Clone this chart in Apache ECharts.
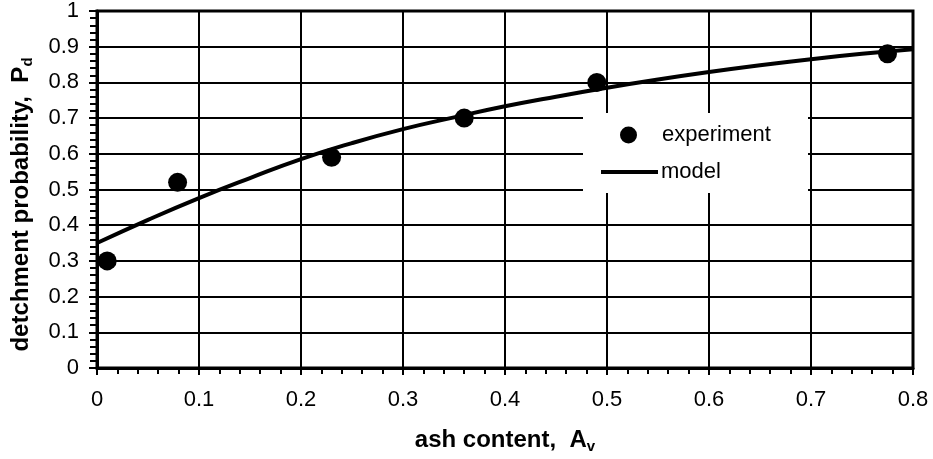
<!DOCTYPE html>
<html>
<head>
<meta charset="utf-8">
<script src="https://cdn.jsdelivr.net/npm/echarts@6/dist/echarts.min.js"></script>
<style>html,body{margin:0;padding:0;background:#fff}#c{width:933px;height:459px}</style>
</head>
<body>
<div id="c"></div>
<script>
const expX = [0.01, 0.079, 0.23, 0.36, 0.49, 0.775];
const expY = [0.30, 0.52, 0.59, 0.70, 0.80, 0.88];
const modelX = [0, 0.05, 0.1, 0.15, 0.2, 0.25, 0.3, 0.35, 0.4, 0.45, 0.5, 0.55, 0.6, 0.65, 0.7, 0.75, 0.8];
const modelY = [0.35, 0.415, 0.476, 0.532, 0.585, 0.63, 0.669, 0.702, 0.733, 0.76, 0.785, 0.808, 0.829, 0.848, 0.865, 0.88, 0.893];
const xTicks = [0, 0.1, 0.2, 0.3, 0.4, 0.5, 0.6, 0.7, 0.8];
const yTicks = [0, 0.1, 0.2, 0.3, 0.4, 0.5, 0.6, 0.7, 0.8, 0.9, 1];

const FONT = '"Liberation Sans", Arial, sans-serif';
const chart = echarts.init(document.getElementById('c'), null, {renderer: 'canvas'});
const fmt = v => (Math.abs(v) < 1e-9 ? '0' : String(+v.toFixed(1)));
chart.setOption({
  animation: false,
  backgroundColor: '#fff',
  textStyle: {fontFamily: FONT},
  grid: {left: 97, right: 20, top: 9, bottom: 91, show: true, borderColor: '#000', borderWidth: 3, backgroundColor: 'transparent'},
  xAxis: {
    type: 'value', min: xTicks[0], max: xTicks[xTicks.length - 1], interval: 0.1,
    name: '{t|ash content,  A}{s|v}', nameLocation: 'middle', nameGap: 58,
    nameTextStyle: {
      rich: {
        t: {fontFamily: FONT, fontSize: 24, fontWeight: 'bold', color: '#000', lineHeight: 28},
        s: {fontFamily: FONT, fontSize: 15, fontWeight: 'bold', color: '#000', lineHeight: 12, verticalAlign: 'bottom'}
      }
    },
    axisLine: {show: true, lineStyle: {color: '#000', width: 3}},
    axisTick: {show: true, length: 7, lineStyle: {color: '#000', width: 2}},
    minorTick: {show: true, splitNumber: 5, length: 6, lineStyle: {color: '#000', width: 2}},
    splitLine: {show: true, lineStyle: {color: '#000', width: 2}},
    axisLabel: {color: '#000', fontSize: 22, fontFamily: FONT, margin: 21, formatter: fmt}
  },
  yAxis: {
    type: 'value', min: yTicks[0], max: yTicks[yTicks.length - 1], interval: 0.1,
    name: '{t|detchment probability,  P}{s|d}', nameLocation: 'middle', nameGap: 62, nameRotate: 90,
    nameTextStyle: {
      padding: [0, 30, 0, 0],
      rich: {
        t: {fontFamily: FONT, fontSize: 24, fontWeight: 'bold', color: '#000', lineHeight: 28},
        s: {fontFamily: FONT, fontSize: 15, fontWeight: 'bold', color: '#000', lineHeight: 12, verticalAlign: 'bottom'}
      }
    },
    axisLine: {show: true, lineStyle: {color: '#000', width: 3}},
    axisTick: {show: true, length: 8, lineStyle: {color: '#000', width: 2}},
    minorTick: {show: true, splitNumber: 5, length: 7, lineStyle: {color: '#000', width: 2}},
    splitLine: {show: true, lineStyle: {color: '#000', width: 2}},
    axisLabel: {color: '#000', fontSize: 22, fontFamily: FONT, margin: 18, formatter: fmt}
  },
  graphic: [{
    type: 'rect', left: 583, top: 113, z: 3,
    shape: {width: 225, height: 80},
    style: {fill: '#fff'}
  }],
  legend: [
    {
      orient: 'vertical', left: 615, top: 119, padding: 5, itemWidth: 17, itemHeight: 17,
      icon: 'circle', itemStyle: {color: '#000', opacity: 1},
      textStyle: {color: '#000', fontSize: 22, fontFamily: FONT, padding: [0, 0, 0, 20]},
      data: ['experiment']
    },
    {
      orient: 'vertical', left: 596, top: 156, padding: 5, itemWidth: 57, itemHeight: 4,
      icon: 'rect', itemStyle: {color: '#000'},
      textStyle: {color: '#000', fontSize: 22, fontFamily: FONT, padding: [0, 0, 0, -2]},
      data: ['model']
    }
  ],
  series: [
    {
      name: 'model', type: 'line', smooth: true, symbol: 'none',
      lineStyle: {color: '#000', width: 4}, itemStyle: {color: '#000'},
      data: modelX.map((x, i) => [x, modelY[i]]), z: 2
    },
    {
      name: 'experiment', type: 'scatter', symbol: 'circle', symbolSize: 19,
      itemStyle: {color: '#000', opacity: 1},
      data: expX.map((x, i) => [x, expY[i]]), z: 3
    }
  ]
});
</script>
</body>
</html>
